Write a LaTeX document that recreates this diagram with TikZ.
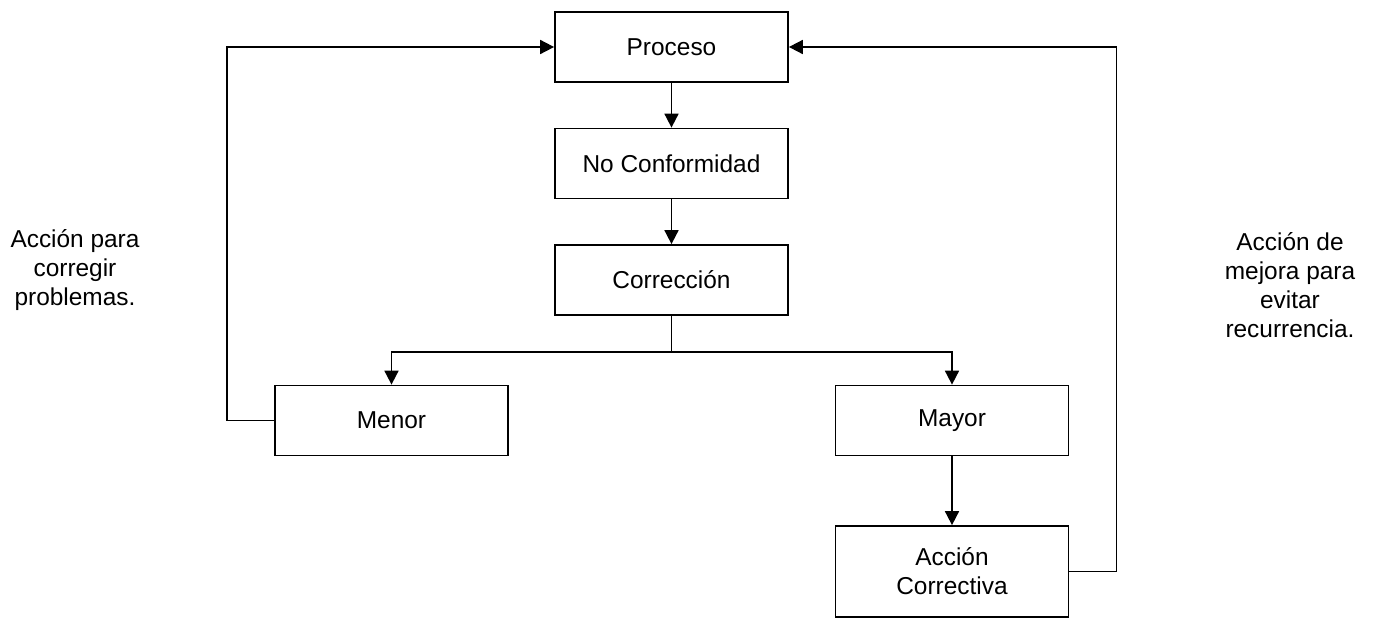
\documentclass[tikz,border=0pt]{standalone}
\usepackage{fontspec}
\setmainfont{Liberation Sans}
\usetikzlibrary{arrows.meta}

\begin{document}
\begin{tikzpicture}[line width=1pt]

      \useasboundingbox (0,0) rectangle (27.56,-12.38);

      \begin{scope}[every node/.style={draw,rectangle,align=center,minimum width=4.66cm,minimum height=1.4cm,font=\fontsize{13.9}{16.5}\selectfont}]
        \node (proceso)    at (13.43,-0.94)  {Proceso};
        \node (noconf)     at (13.43,-3.27)  {No Conformidad};
        \node (correccion) at (13.43,-5.60)  {Corrección};
        \node (menor)      at (7.83,-8.41)   {Menor};
        \node (mayor)      at (19.04,-8.41)  {Mayor};
        \node[minimum height=1.82cm] (accion) at (19.04,-11.43) {Acción\\Correctiva};
      \end{scope}

      \begin{scope}[every node/.style={align=center,font=\fontsize{13.9}{16.5}\selectfont}]
        \node (notaizq) at (1.50,-5.41)  {Acción para\\corregir\\problemas.};
        \node (notader) at (25.80,-5.71) {Acción de\\mejora para\\evitar\\recurrencia.};
      \end{scope}

      \begin{scope}[-{Triangle[length=0.28cm,width=0.28cm]}]
        \draw (proceso)    -- (noconf);
        \draw (noconf)     -- (correccion);
        \draw (correccion.south) -- ++(0,-0.72) -| (menor.north);
        \draw (correccion.south) -- ++(0,-0.72) -| (mayor.north);
        \draw (mayor)      -- (accion);
        \draw (menor.west) -- ++(-0.94,0) |- (proceso.west);
        \draw (accion.east) -- ++(0.94,0) |- (proceso.east);
      \end{scope}

    \end{tikzpicture}
\end{document}
